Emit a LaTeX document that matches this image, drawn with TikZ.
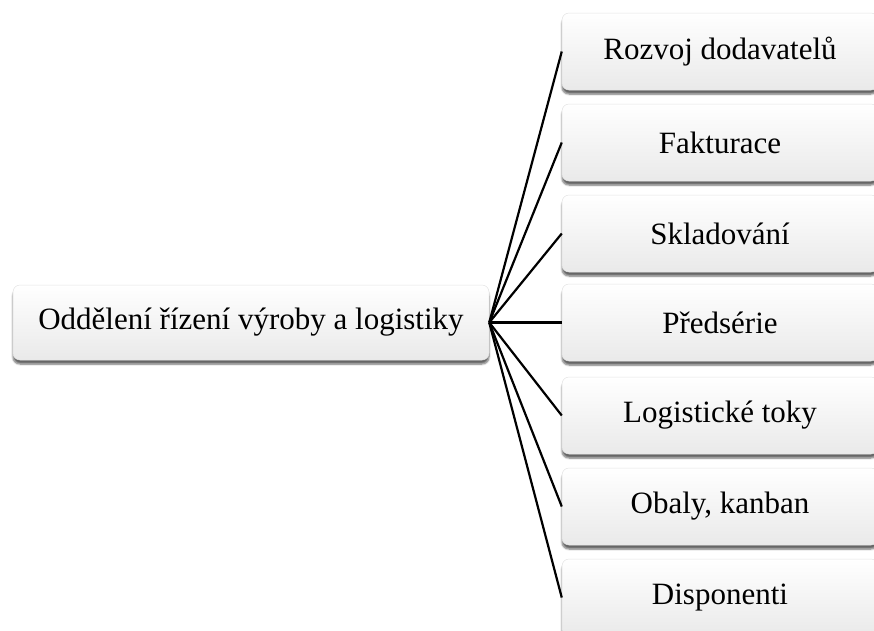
\documentclass[tikz,border=0pt]{standalone}
\usepackage{fontspec}
\setmainfont{Liberation Serif}
\usetikzlibrary{shadows.blur}
\begin{document}
\begin{tikzpicture}[x=1pt,y=-1pt,
  box/.style={rounded corners=7pt, top color=white, bottom color=gray!17,
    draw=gray!22, line width=0.5pt,
    blur shadow={shadow xshift=0pt, shadow yshift=-4pt, shadow blur steps=6, shadow opacity=60},
    inner sep=0pt, font=\fontsize{31}{37}\selectfont, text=black},
  leftbox/.style={box, minimum width=476pt, minimum height=75pt},
  rightbox/.style={box, minimum width=316pt, minimum height=77pt},
  link/.style={line width=2.2pt, black}]
\useasboundingbox (0,0) rectangle (874,630);
\node[leftbox] (root) at (251,322.5) {Oddělení řízení výroby a logistiky};
\node[rightbox] (r1) at (720,51.5) {Rozvoj dodavatelů};
\node[rightbox] (r2) at (720,142.5) {Fakturace};
\node[rightbox] (r3) at (720,233.5) {Skladování};
\node[rightbox] (r4) at (720,322.5) {Předsérie};
\node[rightbox] (r5) at (720,415.5) {Logistické toky};
\node[rightbox] (r6) at (720,506.5) {Obaly, kanban};
\node[rightbox] (r7) at (720,597.5) {Disponenti};
\foreach \n in {r1,r2,r3,r4,r5,r6,r7}
  \draw[link] (root.east) -- (\n.west);
\end{tikzpicture}
\end{document}
